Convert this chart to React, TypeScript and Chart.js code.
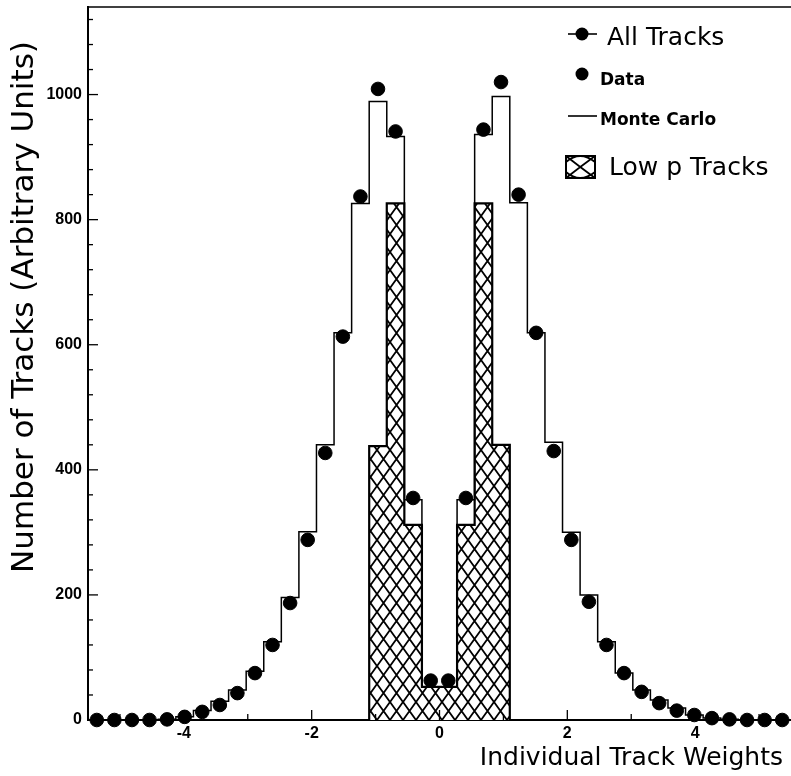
import React, { useEffect, useRef } from "react";
import { Chart, registerables } from "chart.js";

Chart.register(...registerables);

// Histogram binning (40 bins of width 0.275 from -5.5 to 5.5)
const binStart = -5.5;
const binWidth = 0.275;

// Data points (All Tracks, Data)
const dataCounts = [
  0, 0, 0, 0, 1, 5, 13, 24, 43, 75, 120, 187, 288, 427, 613, 837, 1009, 941, 355, 63,
  63, 355, 944, 1020, 840, 619, 430, 288, 189, 120, 75, 45, 27, 15, 8, 3, 1, 0, 0, 0,
];

// Monte Carlo histogram
const mcCounts = [
  0, 0, 0, 0, 1, 5, 15, 30, 48, 78, 125, 196, 301, 440, 619, 826, 989, 933, 352, 53,
  53, 352, 936, 997, 827, 619, 444, 300, 200, 125, 75, 48, 32, 19, 8, 3, 1, 0, 0, 0,
];

// Low p Tracks (hatched) histogram, 8 bins starting at -1.1
const lowPStart = -1.1;
const lowPCounts = [438, 826, 312, 53, 53, 312, 826, 440];

const xMajorTicks = [-4, -2, 0, 2, 4];
const xMinorTicks = [-5, -3, -1, 1, 3, 5];
const yMajorTicks = [0, 200, 400, 600, 800, 1000];
const yMinorStep = 40;
const yMax = 1140;

const xTitle = "Individual Track Weights";
const yTitle = "Number of Tracks (Arbitrary Units)";
const legendAll = "All Tracks";
const legendData = "Data";
const legendMC = "Monte Carlo";
const legendLowP = "Low p Tracks";

function stepPoints(start: number, width: number, counts: number[]) {
  const pts: { x: number; y: number }[] = [{ x: start, y: 0 }];
  counts.forEach((c, i) => pts.push({ x: start + i * width, y: c }));
  const end = start + counts.length * width;
  pts.push({ x: end, y: counts[counts.length - 1] });
  pts.push({ x: end, y: 0 });
  return pts;
}

function makeHatch(): CanvasPattern | string {
  const c = document.createElement("canvas");
  const w = 13;
  const h = 18;
  c.width = w;
  c.height = h;
  const g = c.getContext("2d");
  if (!g) return "#fff";
  g.fillStyle = "#fff";
  g.fillRect(0, 0, w, h);
  g.strokeStyle = "#000";
  g.lineWidth = 1.8;
  g.beginPath();
  g.moveTo(0, 0);
  g.lineTo(w, h);
  g.moveTo(w, 0);
  g.lineTo(0, h);
  g.stroke();
  const p = g.createPattern(c, "repeat");
  return p || "#fff";
}

export default function App() {
  const ref = useRef<HTMLCanvasElement | null>(null);

  useEffect(() => {
    const canvas = ref.current;
    if (!canvas) return;
    const hatch = makeHatch();

    const dotPoints = dataCounts.map((c, i) => ({ x: binStart + (i + 0.5) * binWidth, y: c }));

    const decor = {
      id: "decor",
      afterDraw(chart: any) {
        const { ctx, chartArea: a, scales } = chart;
        const xs = scales.x;
        const ys = scales.y;
        ctx.save();
        ctx.strokeStyle = "#000";
        ctx.fillStyle = "#000";
        ctx.lineWidth = 1.6;
        // top frame
        ctx.beginPath();
        ctx.moveTo(a.left, a.top);
        ctx.lineTo(a.right, a.top);
        ctx.stroke();
        // y ticks (inside)
        ctx.lineWidth = 1.3;
        for (let v = 0; v <= yMax; v += yMinorStep) {
          const py = ys.getPixelForValue(v);
          const len = yMajorTicks.includes(v) ? 10 : 5;
          ctx.beginPath();
          ctx.moveTo(a.left, py);
          ctx.lineTo(a.left + len, py);
          ctx.stroke();
        }
        // x ticks (inside)
        xMajorTicks.forEach((v) => {
          const px = xs.getPixelForValue(v);
          ctx.beginPath();
          ctx.moveTo(px, a.bottom);
          ctx.lineTo(px, a.bottom - 10);
          ctx.stroke();
        });
        xMinorTicks.forEach((v) => {
          const px = xs.getPixelForValue(v);
          ctx.beginPath();
          ctx.moveTo(px, a.bottom);
          ctx.lineTo(px, a.bottom - 6);
          ctx.stroke();
        });

        // axis titles
        ctx.font = "25px 'DejaVu Sans'";
        ctx.textAlign = "right";
        ctx.textBaseline = "alphabetic";
        ctx.fillText(xTitle, 783, 765);

        ctx.save();
        ctx.translate(33, 307);
        ctx.rotate(-Math.PI / 2);
        ctx.textAlign = "center";
        ctx.font = "31px 'DejaVu Sans'";
        ctx.fillText(yTitle, 0, 0);
        ctx.restore();

        // legend
        ctx.textAlign = "left";
        ctx.lineWidth = 1.6;
        // All Tracks
        ctx.beginPath();
        ctx.moveTo(568, 34);
        ctx.lineTo(597, 34);
        ctx.stroke();
        ctx.beginPath();
        ctx.arc(582, 34, 6.5, 0, Math.PI * 2);
        ctx.fill();
        ctx.font = "25px 'DejaVu Sans'";
        ctx.fillText(legendAll, 607, 45);
        // Data
        ctx.beginPath();
        ctx.arc(582, 74, 6.5, 0, Math.PI * 2);
        ctx.fill();
        ctx.font = "bold 17px 'DejaVu Sans'";
        ctx.fillText(legendData, 600, 85);
        // Monte Carlo
        ctx.beginPath();
        ctx.moveTo(568, 116);
        ctx.lineTo(597, 116);
        ctx.stroke();
        ctx.fillText(legendMC, 600, 125);
        // Low p Tracks box (single cross-hatch cell)
        ctx.fillStyle = "#fff";
        ctx.fillRect(566, 156, 29, 22);
        ctx.lineWidth = 1.8;
        ctx.beginPath();
        ctx.moveTo(566, 156);
        ctx.quadraticCurveTo(580, 167, 595, 178);
        ctx.moveTo(595, 156);
        ctx.quadraticCurveTo(580, 167, 566, 178);
        ctx.moveTo(566, 162);
        ctx.quadraticCurveTo(580, 150, 595, 162);
        ctx.moveTo(566, 172);
        ctx.quadraticCurveTo(580, 184, 595, 172);
        ctx.stroke();
        ctx.lineWidth = 2;
        ctx.strokeRect(566, 156, 29, 22);
        ctx.fillStyle = "#000";
        ctx.font = "25px 'DejaVu Sans'";
        ctx.fillText(legendLowP, 609, 175);
        ctx.restore();
      },
    };

    const chart = new Chart(canvas, {
      type: "line",
      data: {
        datasets: [
          {
            label: legendData,
            data: dotPoints,
            showLine: false,
            pointRadius: 6.8,
            pointHoverRadius: 6.8,
            pointBackgroundColor: "#000",
            pointBorderColor: "#000",
            borderColor: "#000",
            backgroundColor: "#000",
            clip: false,
            order: 0,
          } as any,
          {
            label: legendMC,
            data: stepPoints(binStart, binWidth, mcCounts),
            stepped: "before",
            borderColor: "#000",
            borderWidth: 1.5,
            pointRadius: 0,
            fill: false,
            order: 1,
          } as any,
          {
            label: legendLowP,
            data: stepPoints(lowPStart, binWidth, lowPCounts),
            stepped: "before",
            borderColor: "#000",
            borderWidth: 2.2,
            pointRadius: 0,
            backgroundColor: hatch as any,
            fill: "origin",
            order: 2,
          } as any,
        ],
      },
      options: {
        responsive: false,
        animation: false,
        events: [],
        layout: { autoPadding: false, padding: { top: 7, left: 0, right: 0, bottom: 0 } },
        plugins: {
          legend: { display: false },
          tooltip: { enabled: false },
          title: { display: false },
        },
        scales: {
          x: {
            type: "linear",
            min: -5.5,
            max: 5.5,
            grid: { display: false, drawTicks: false },
            border: { display: true, color: "#000", width: 2 },
            ticks: {
              color: "#000",
              padding: 4,
              font: { family: "'Liberation Sans'", size: 16, weight: "bold" },
              maxRotation: 0,
              autoSkip: false,
              callback: (v: any) => String(v),
            },
            afterBuildTicks: (s: any) => {
              s.ticks = xMajorTicks.map((v) => ({ value: v }));
            },
            afterFit: (s: any) => {
              s.height = 56;
              s.paddingLeft = 0;
              s.paddingRight = 0;
            },
          },
          y: {
            type: "linear",
            min: 0,
            max: yMax,
            grid: { display: false, drawTicks: false },
            border: { display: true, color: "#000", width: 2 },
            ticks: {
              color: "#000",
              padding: 6,
              font: { family: "'Liberation Sans'", size: 16, weight: "bold" },
              autoSkip: false,
              callback: (v: any) => String(v),
            },
            afterBuildTicks: (s: any) => {
              s.ticks = yMajorTicks.map((v) => ({ value: v }));
            },
            afterFit: (s: any) => {
              s.width = 88;
              s.paddingTop = 0;
              s.paddingBottom = 0;
            },
          },
        },
      } as any,
      plugins: [decor],
    });

    return () => {
      chart.destroy();
    };
  }, []);

  return (
    <div style={{ position: "absolute", left: 0, top: 0, width: 791, height: 776, background: "#fff" }}>
      <canvas ref={ref} width={791} height={776} style={{ display: "block" }} />
    </div>
  );
}
